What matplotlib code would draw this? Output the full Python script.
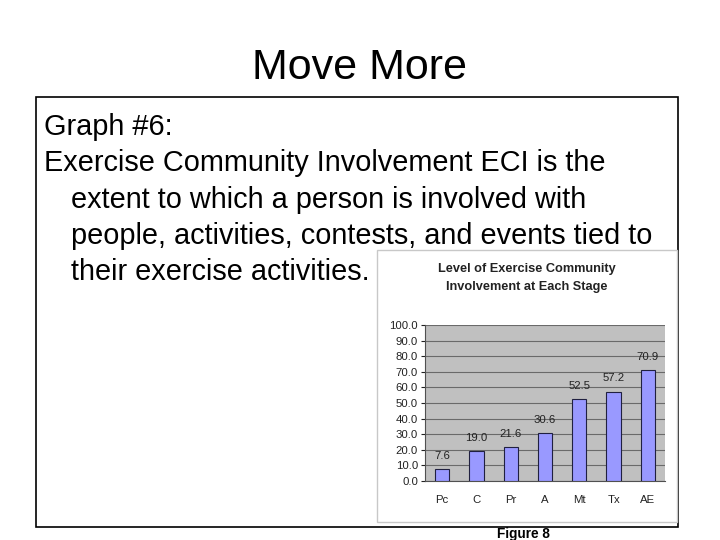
import matplotlib.pyplot as plt
from matplotlib.patches import Rectangle

# chart data
stages = ['Pc', 'C', 'Pr', 'A', 'Mt', 'Tx', 'AE']
eci = [7.6, 19.0, 21.6, 30.6, 52.5, 57.2, 70.9]
yticks = [0, 10, 20, 30, 40, 50, 60, 70, 80, 90, 100]

W, H = 720, 540
plt.rcParams['font.family'] = ['Liberation Sans', 'DejaVu Sans']

fig = plt.figure(figsize=(7.2, 5.4), dpi=100)
fig.patch.set_facecolor('white')

def px(x, y):
    # pixel coords (top-left origin) to figure fraction
    return x / W, 1 - y / H

# slide title
fig.text(*px(360, 68), 'Move More', ha='center', va='center', fontsize=31)

# black text box
fig.patches.append(Rectangle(px(36, 527), 642 / W, 430 / H, transform=fig.transFigure,
                             fill=False, edgecolor='black', linewidth=1.2, zorder=-1))

lines = [(44, 127, 'Graph #6:'),
         (44, 163, 'Exercise Community Involvement ECI is the'),
         (71, 200, 'extent to which a person is involved with'),
         (71, 236, 'people, activities, contests, and events tied to'),
         (71, 272, 'their exercise activities.')]
for x, y, s in lines:
    fig.text(*px(x, y), s, ha='left', va='center', fontsize=20.8)

# chart panel
fig.patches.append(Rectangle(px(377, 522), 300 / W, 272 / H, transform=fig.transFigure,
                             facecolor='white', edgecolor='#c8c8c8', linewidth=1.0,
                             zorder=-1))
fig.text(*px(527, 269), 'Level of Exercise Community', ha='center', va='center',
         fontsize=9.2, fontweight='bold', color='#222222')
fig.text(*px(527, 287), 'Involvement at Each Stage', ha='center', va='center',
         fontsize=9.2, fontweight='bold', color='#222222')

ax = fig.add_axes([425 / W, 59 / H, 240 / W, 156 / H])
ax.set_facecolor('#c0c0c0')
ax.bar(range(len(stages)), eci, width=0.42, color='#9999ff', edgecolor='#202040',
       linewidth=0.8, zorder=3)
for i, v in enumerate(eci):
    ax.annotate(f'{v:.1f}', (i, v), xytext=(0, 6), textcoords='offset points',
                ha='center', va='bottom', fontsize=8.2, color='#222222')
ax.set_xlim(-0.5, len(stages) - 0.5)
ax.set_ylim(0, 100)
ax.set_yticks(yticks)
ax.set_yticklabels([f'{t:.1f}' for t in yticks])
ax.set_xticks(range(len(stages)))
ax.set_xticklabels(stages)
ax.yaxis.grid(True, color='#6a6a6a', linewidth=0.8, zorder=0)
ax.set_axisbelow(True)
for side in ['top', 'right']:
    ax.spines[side].set_visible(False)
ax.spines['left'].set_color('#505050')
ax.spines['bottom'].set_color('#505050')
ax.tick_params(axis='y', labelsize=8.2, length=3, pad=2, colors='#222222')
ax.tick_params(axis='x', labelsize=8.2, length=0, pad=10, colors='#222222')

fig.text(*px(523, 534), 'Figure 8', ha='center', va='center', fontsize=9.8,
         fontweight='bold')

fig.savefig('out.png', dpi=100)
